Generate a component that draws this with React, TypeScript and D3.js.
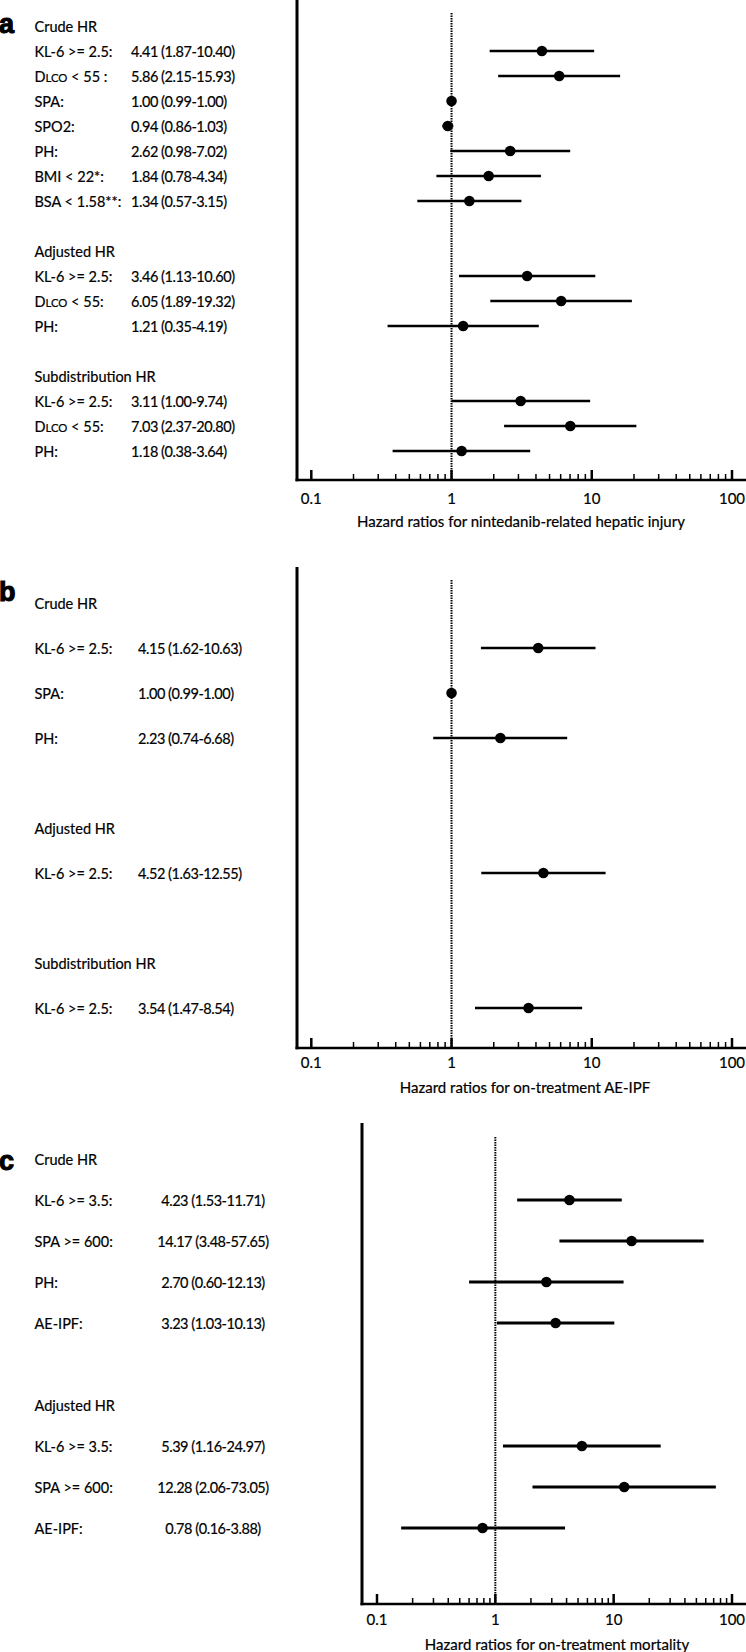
import * as d3 from "d3";

// panel a: nintedanib-related hepatic injury
const panelAGroups = ["Crude HR", "Adjusted HR", "Subdistribution HR"];
const panelALabels = [
  ["KL-6 >= 2.5:", "DLCO < 55 :", "SPA:", "SPO2:", "PH:", "BMI < 22*:", "BSA < 1.58**:"],
  ["KL-6 >= 2.5:", "DLCO < 55:", "PH:"],
  ["KL-6 >= 2.5:", "DLCO < 55:", "PH:"],
];
const panelAHR = [[4.41, 5.86, 1.0, 0.94, 2.62, 1.84, 1.34], [3.46, 6.05, 1.21], [3.11, 7.03, 1.18]];
const panelALow = [[1.87, 2.15, 0.99, 0.86, 0.98, 0.78, 0.57], [1.13, 1.89, 0.35], [1.0, 2.37, 0.38]];
const panelAHigh = [[10.4, 15.93, 1.0, 1.03, 7.02, 4.34, 3.15], [10.6, 19.32, 4.19], [9.74, 20.8, 3.64]];
const panelATitle = "Hazard ratios for nintedanib-related hepatic injury";

// panel b: on-treatment AE-IPF
const panelBGroups = ["Crude HR", "Adjusted HR", "Subdistribution HR"];
const panelBLabels = [["KL-6 >= 2.5:", "SPA:", "PH:"], ["KL-6 >= 2.5:"], ["KL-6 >= 2.5:"]];
const panelBHR = [[4.15, 1.0, 2.23], [4.52], [3.54]];
const panelBLow = [[1.62, 0.99, 0.74], [1.63], [1.47]];
const panelBHigh = [[10.63, 1.0, 6.68], [12.55], [8.54]];
const panelBTitle = "Hazard ratios for on-treatment AE-IPF";

// panel c: on-treatment mortality
const panelCGroups = ["Crude HR", "Adjusted HR"];
const panelCLabels = [
  ["KL-6 >= 3.5:", "SPA >= 600:", "PH:", "AE-IPF:"],
  ["KL-6 >= 3.5:", "SPA >= 600:", "AE-IPF:"],
];
const panelCHR = [[4.23, 14.17, 2.7, 3.23], [5.39, 12.28, 0.78]];
const panelCLow = [[1.53, 3.48, 0.6, 1.03], [1.16, 2.06, 0.16]];
const panelCHigh = [[11.71, 57.65, 12.13, 10.13], [24.97, 73.05, 3.88]];
const panelCTitle = "Hazard ratios for on-treatment mortality";

const majorTicks = [0.1, 1, 10, 100];
const tickLabels = ["0.1", "1", "10", "100"];

const FONT = "Lato, 'Open Sans', sans-serif";
const FS = 14.5;

const fmt = (v: number) => v.toFixed(2);

const Label = ({ text, x, y }: { text: string; x: number; y: number }) => {
  if (text.startsWith("DLCO")) {
    return (
      <text x={x} y={y} fontFamily={FONT} fontSize={FS} stroke="#000" strokeWidth={0.2}>
        D<tspan fontSize={FS * 0.78}>LCO</tspan>
        {text.slice(4)}
      </text>
    );
  }
  return (
    <text x={x} y={y} fontFamily={FONT} fontSize={FS} stroke="#000" strokeWidth={0.2}>
      {text}
    </text>
  );
};

const Panel = (p: any) => {
  const x = d3.scaleLog().domain([0.1, 100]).range([p.x01, p.x100]);
  const row = d3.scaleLinear().domain([0, 1]).range([p.rowStart, p.rowStart + p.rowStep]);

  // lay out rows: heading, items, blank row between groups
  const rows: any[] = [];
  let i = 0;
  p.groups.forEach((g: string, gi: number) => {
    rows.push({ kind: "head", text: g, idx: i++ });
    p.labels[gi].forEach((lab: string, j: number) => {
      rows.push({
        kind: "item",
        text: lab,
        hr: p.hr[gi][j],
        lo: p.lo[gi][j],
        hi: p.hi[gi][j],
        idx: i++,
      });
    });
    i++;
  });

  const minor: number[] = [];
  [0.1, 1, 10].forEach((d) => {
    for (let k = 2; k <= 9; k++) minor.push(d * k);
  });

  return (
    <g>
      <text
        x={p.letterX}
        y={p.letterY}
        fontFamily="'Liberation Sans', Arial, sans-serif"
        fontWeight={900}
        fontSize={27}
        stroke="#000"
        strokeWidth={1.1}
      >
        {p.letter}
      </text>
      {rows.map((r) =>
        r.kind === "head" ? (
          <text key={"h" + r.idx} x={34.5} y={row(r.idx) + 5.5} fontFamily={FONT} fontSize={FS} stroke="#000" strokeWidth={0.2}>
            {r.text}
          </text>
        ) : (
          <g key={"r" + r.idx}>
            <Label text={r.text} x={34.5} y={row(r.idx) + 5.5} />
            <text
              x={p.valueX}
              y={row(r.idx) + 5.5}
              textAnchor={p.valueAnchor}
              fontFamily={FONT}
              fontSize={FS}
              letterSpacing={-0.45}
              stroke="#000"
              strokeWidth={0.2}
            >
              {`${fmt(r.hr)} (${fmt(r.lo)}-${fmt(r.hi)})`}
            </text>
          </g>
        )
      )}
      {/* reference line at HR = 1 */}
      <line x1={x(1)} x2={x(1)} y1={p.dotTop} y2={p.axisY} stroke="#000" strokeWidth={2} strokeDasharray="1.5 1" />
      {rows
        .filter((r) => r.kind === "item")
        .map((r) => (
          <g key={"m" + r.idx}>
            <line x1={x(r.lo)} x2={x(r.hi)} y1={row(r.idx)} y2={row(r.idx)} stroke="#000" strokeWidth={p.lineW} />
            <circle cx={x(r.hr)} cy={row(r.idx)} r={5.3} fill="#000" />
          </g>
        ))}
      {/* axes */}
      <line x1={p.axisX} x2={p.axisX} y1={p.axisTop} y2={p.axisY + 1.2} stroke="#000" strokeWidth={3} />
      <line x1={p.axisX - 1.5} x2={746} y1={p.axisY} y2={p.axisY} stroke="#000" strokeWidth={2.5} />
      {minor.map((d) => (
        <line key={"n" + d} x1={x(d)} x2={x(d)} y1={p.axisY} y2={p.axisY - 6} stroke="#000" strokeWidth={1.5} />
      ))}
      {majorTicks.map((d, k) => (
        <g key={"t" + d}>
          <line x1={x(d)} x2={x(d)} y1={p.axisY} y2={p.axisY - 10} stroke="#000" strokeWidth={2.5} />
          <text
            x={x(d)}
            y={p.axisY + p.tickDy}
            textAnchor="middle"
            fontFamily={FONT}
            fontSize={15}
            stroke="#000"
            strokeWidth={0.2}
          >
            {tickLabels[k]}
          </text>
        </g>
      ))}
      <text
        x={p.titleX}
        y={p.axisY + p.titleDy}
        textAnchor="middle"
        fontFamily={FONT}
        fontSize={15}
        stroke="#000"
        strokeWidth={0.2}
      >
        {p.title}
      </text>
    </g>
  );
};

export default function App() {
  return (
    <svg width={746} height={1652} style={{ position: "absolute", left: 0, top: 0, background: "#fff" }}>
      <rect width={746} height={1652} fill="#fff" />
      <Panel
        letter="a"
        letterX={-1}
        letterY={33}
        groups={panelAGroups}
        labels={panelALabels}
        hr={panelAHR}
        lo={panelALow}
        hi={panelAHigh}
        title={panelATitle}
        axisX={297}
        axisTop={0}
        axisY={480}
        dotTop={13}
        x01={311.3}
        x100={732}
        rowStart={26}
        rowStep={25}
        valueX={131}
        valueAnchor="start"
        tickDy={24}
        titleDy={47}
        titleX={521}
        lineW={2.6}
      />
      <Panel
        letter="b"
        letterX={-1}
        letterY={601}
        groups={panelBGroups}
        labels={panelBLabels}
        hr={panelBHR}
        lo={panelBLow}
        hi={panelBHigh}
        title={panelBTitle}
        axisX={297}
        axisTop={567}
        axisY={1048}
        dotTop={580}
        x01={311.3}
        x100={732}
        rowStart={603}
        rowStep={45}
        valueX={138}
        valueAnchor="start"
        tickDy={20}
        titleDy={45}
        titleX={525}
        lineW={2.6}
      />
      <Panel
        letter="c"
        letterX={-1}
        letterY={1170}
        groups={panelCGroups}
        labels={panelCLabels}
        hr={panelCHR}
        lo={panelCLow}
        hi={panelCHigh}
        title={panelCTitle}
        axisX={362}
        axisTop={1123}
        axisY={1604}
        dotTop={1137}
        x01={377}
        x100={732}
        rowStart={1159}
        rowStep={41}
        valueX={213}
        valueAnchor="middle"
        tickDy={21}
        titleDy={46}
        titleX={557}
        lineW={3}
      />
    </svg>
  );
}
